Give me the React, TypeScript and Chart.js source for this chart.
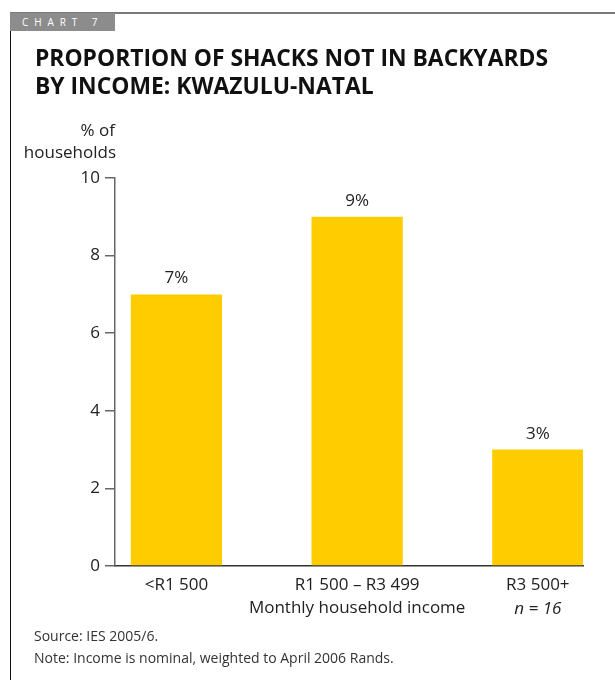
import React, { useEffect, useLayoutEffect, useRef } from "react";
import { Chart, registerables } from "chart.js";
Chart.register(...registerables);

const chartLabel = "CHART 7";
const titleLines = ["PROPORTION OF SHACKS NOT IN BACKYARDS", "BY INCOME: KWAZULU-NATAL"];
const categories = ["<R1 500", "R1 500 – R3 499", "R3 500+"];
const values = [7, 9, 3];
const yTickValues = [0, 2, 4, 6, 8, 10];
const yTitle = ["% of", "households"];
const axisNote = "Monthly household income";
const sampleNote = "n = 16";
const footnotes = ["Source: IES 2005/6.", "Note: Income is nominal, weighted to April 2006 Rands."];

const FONT = "'Open Sans', 'Noto Sans', sans-serif";
const TEXT = "#222222";
const BAR = "#FFCC00";

export default function App() {
  const canvasRef = useRef<HTMLCanvasElement>(null);
  const titleRefs = useRef<(HTMLDivElement | null)[]>([]);

  useLayoutEffect(() => {
    document.body.style.margin = "0";
    const first = titleRefs.current[0];
    if (first) {
      const w = first.getBoundingClientRect().width;
      const s = 513 / w;
      titleRefs.current.forEach((el) => {
        if (el) el.style.transform = `scaleX(${s})`;
      });
    }
  }, []);

  useEffect(() => {
    const canvas = canvasRef.current!;
    const extras = {
      id: "extras",
      afterDatasetsDraw(chart: any) {
        const ctx = chart.ctx;
        const meta = chart.getDatasetMeta(0);
        ctx.save();
        ctx.fillStyle = TEXT;
        ctx.font = `17px ${FONT}`;
        ctx.textAlign = "center";
        ctx.textBaseline = "alphabetic";
        meta.data.forEach((bar: any, i: number) => {
          ctx.fillText(values[i] + "%", bar.x, bar.y - 11);
        });
        const ys = chart.scales.y;
        ctx.textAlign = "right";
        ctx.fillText(yTitle[0], ys.right, chart.chartArea.top - 42);
        ctx.fillText(yTitle[1], ys.right + 1, chart.chartArea.top - 20);
        const xs = chart.scales.x;
        ctx.textAlign = "center";
        ctx.font = `italic 17px ${FONT}`;
        ctx.fillText(sampleNote, xs.getPixelForValue(2), chart.chartArea.bottom + 48);
        ctx.restore();
      },
    };

    const chart = new Chart(canvas, {
      type: "bar",
      data: {
        datasets: [
          {
            data: values.map((v, i) => ({ x: i, y: v })),
            backgroundColor: BAR,
            borderWidth: 0,
            categoryPercentage: 1,
            barPercentage: 0.505,
          },
        ],
      },
      options: {
        responsive: false,
        animation: false,
        layout: { padding: { top: 178, right: 32, left: 0, bottom: 0 } },
        plugins: { legend: { display: false }, tooltip: { enabled: false }, title: { display: false } },
        scales: {
          x: {
            type: "linear",
            offset: false,
            bounds: "data",
            min: -0.34,
            max: 2.25,
            afterBuildTicks: (scale: any) => {
              scale.ticks = categories.map((_, i) => ({ value: i }));
            },
            afterFit: (scale: any) => {
              scale.height = 114;
            },
            grid: { display: false, drawTicks: false, offset: false },
            border: { display: true, color: "#333333", width: 1.5 },
            ticks: {
              padding: 8,
              maxRotation: 0,
              autoSkip: false,
              color: TEXT,
              font: { family: FONT, size: 17, lineHeight: 1.35 },
              callback: (v: any) => (v === 1 ? [categories[1], axisNote] : categories[v]),
            },
          },
          y: {
            min: 0,
            max: 10,
            afterBuildTicks: (scale: any) => {
              scale.ticks = yTickValues.map((v) => ({ value: v }));
            },
            afterFit: (scale: any) => {
              scale.width = 115;
            },
            grid: { display: true, drawOnChartArea: false, drawTicks: true, tickLength: 10, color: "#666666", lineWidth: 1.5 },
            border: { display: true, color: "#666666", width: 1.5 },
            ticks: {
              padding: 5,
              color: TEXT,
              font: { family: FONT, size: 17 },
            },
          },
        },
      },
      plugins: [extras],
    } as any);
    return () => chart.destroy();
  }, []);

  return (
    <div style={{ position: "relative", width: 615, height: 680, overflow: "hidden", fontFamily: FONT, background: "#fff" }}>
      <canvas ref={canvasRef} width={615} height={680} style={{ position: "absolute", left: 0, top: 0 }} />
      <div style={{ position: "absolute", left: 10, top: 12, width: 605, height: 2, background: "#7a7a7a" }} />
      <div style={{ position: "absolute", left: 10, top: 13, width: 1, height: 667, background: "#111" }} />
      <div
        style={{
          position: "absolute",
          left: 10,
          top: 13,
          width: 105,
          height: 18,
          background: "#8c8c8c",
          color: "#fff",
          fontSize: 10,
          lineHeight: "18px",
          letterSpacing: "5.9px",
          paddingLeft: 12,
          boxSizing: "border-box",
          whiteSpace: "nowrap",
        }}
      >
        {chartLabel}
      </div>
      {titleLines.map((t, i) => (
        <div
          key={i}
          ref={(el) => {
            titleRefs.current[i] = el;
          }}
          style={{
            position: "absolute",
            left: 35,
            top: 44 + i * 28,
            fontSize: 22.5,
            lineHeight: "28px",
            fontWeight: 700,
            color: "#111",
            whiteSpace: "nowrap",
            transformOrigin: "left top",
          }}
        >
          {t}
        </div>
      ))}
      {footnotes.map((t, i) => (
        <div
          key={i}
          style={{
            position: "absolute",
            left: 34,
            top: 625 + i * 22,
            fontSize: 14,
            lineHeight: "21px",
            color: "#333",
            whiteSpace: "nowrap",
          }}
        >
          {t}
        </div>
      ))}
    </div>
  );
}
